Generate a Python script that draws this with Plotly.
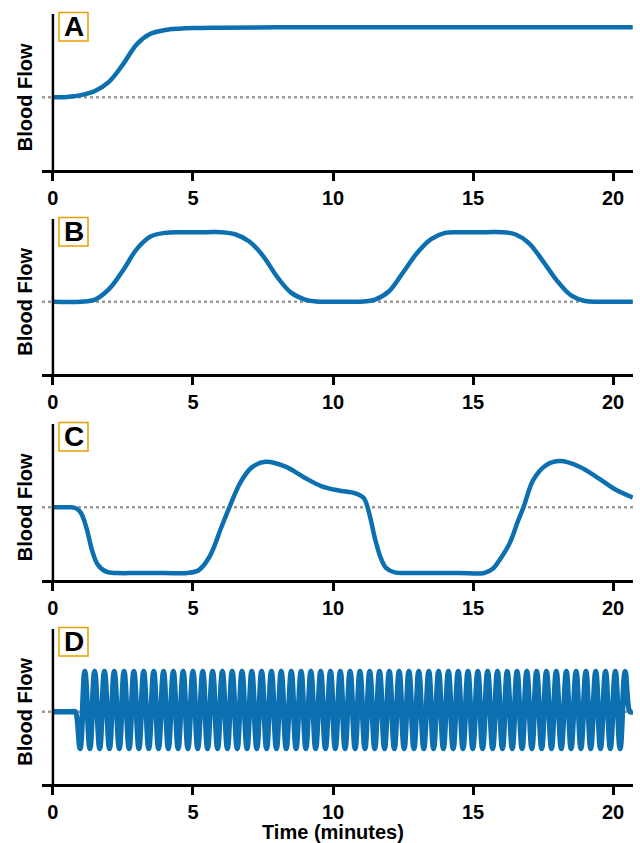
import plotly.graph_objects as go

# ---------------- data ----------------
time_a = [0, 0.5, 1.0, 1.5, 2.0, 2.5, 3.0, 3.5, 4.0, 4.5, 5.0, 6.0, 8.0, 10.0, 15.0, 20.7]
flow_a = [0, 0.005, 0.03, 0.09, 0.22, 0.47, 0.76, 0.91, 0.96, 0.98, 0.99, 0.995, 1.0, 1.0, 1.0, 1.0]

time_b = [0, 1.0, 1.5, 2.0, 2.5, 3.0, 3.5, 4.0, 4.5, 5.0, 5.5, 6.0, 6.5, 7.0, 7.5, 8.0, 8.5, 9.0, 9.5,
          10.0, 10.5, 11.0, 11.5, 12.0, 12.5, 13.0, 13.5, 14.0, 14.5, 15.0, 15.5, 16.0, 16.5, 17.0,
          17.5, 18.0, 18.5, 19.0, 19.5, 20.0, 20.7]
flow_b = [0, 0, 0.03, 0.18, 0.45, 0.76, 0.94, 0.99, 1.0, 1.0, 1.0, 1.0, 0.97, 0.87, 0.66, 0.36, 0.13,
          0.03, 0.0, 0.0, 0.0, 0.0, 0.03, 0.15, 0.42, 0.70, 0.90, 0.99, 1.0, 1.0, 1.0, 1.0, 0.97, 0.84,
          0.58, 0.30, 0.09, 0.01, 0.0, 0.0, 0.0]

time_c = [0, 0.5, 0.8, 1.0, 1.2, 1.4, 1.6, 1.9, 2.3, 3.0, 4.0, 4.8, 5.2, 5.6, 6.0, 6.3, 6.7, 7.1,
          7.6, 8.3, 9.0, 9.6, 10.2, 10.8, 11.1, 11.3, 11.5, 11.7, 11.9, 12.2, 12.6, 13.5, 14.5,
          15.4, 15.7, 16.0, 16.3, 16.6, 16.8, 17.15, 17.6, 18.1, 18.8, 19.5, 20.1, 20.7]
flow_c = [0, 0, -0.01, -0.08, -0.30, -0.62, -0.82, -0.92, -0.94, -0.94, -0.94, -0.94, -0.90, -0.70,
          -0.30, 0.0, 0.36, 0.57, 0.65, 0.58, 0.42, 0.30, 0.24, 0.20, 0.13, -0.10, -0.45, -0.72,
          -0.87, -0.93, -0.94, -0.94, -0.94, -0.94, -0.88, -0.72, -0.52, -0.20, 0.0, 0.39, 0.60,
          0.66, 0.58, 0.41, 0.25, 0.14]

time_d = [0, 0.70, 0.80,
          0.97, 1.14, 1.32, 1.49, 1.67, 1.84, 2.02, 2.19, 2.37, 2.54,
          2.72, 2.89, 3.07, 3.24, 3.42, 3.60, 3.77, 3.95, 4.12, 4.30,
          4.47, 4.65, 4.82, 5.00, 5.17, 5.35, 5.52, 5.70, 5.88, 6.05,
          6.23, 6.40, 6.58, 6.75, 6.93, 7.10, 7.28, 7.45, 7.63, 7.80,
          7.98, 8.15, 8.33, 8.51, 8.68, 8.86, 9.03, 9.21, 9.38, 9.56,
          9.73, 9.91, 10.08, 10.26, 10.43, 10.61, 10.79, 10.96, 11.14, 11.31,
          11.49, 11.66, 11.84, 12.01, 12.19, 12.36, 12.54, 12.71, 12.89, 13.06,
          13.24, 13.42, 13.59, 13.77, 13.94, 14.12, 14.29, 14.47, 14.64, 14.82,
          14.99, 15.17, 15.34, 15.52, 15.70, 15.87, 16.05, 16.22, 16.40, 16.57,
          16.75, 16.92, 17.10, 17.27, 17.45, 17.62, 17.80, 17.97, 18.15, 18.33,
          18.50, 18.68, 18.85, 19.03, 19.20, 19.38, 19.55, 19.73, 19.90, 20.08,
          20.25, 20.43,
          20.60, 20.71]
flow_d = [0, 0, 0,
          -0.53, 0.58, -0.53, 0.58, -0.53, 0.58, -0.53, 0.58, -0.53, 0.58,
          -0.53, 0.58, -0.53, 0.58, -0.53, 0.58, -0.53, 0.58, -0.53, 0.58,
          -0.53, 0.58, -0.53, 0.58, -0.53, 0.58, -0.53, 0.58, -0.53, 0.58,
          -0.53, 0.58, -0.53, 0.58, -0.53, 0.58, -0.53, 0.58, -0.53, 0.58,
          -0.53, 0.58, -0.53, 0.58, -0.53, 0.58, -0.53, 0.58, -0.53, 0.58,
          -0.53, 0.58, -0.53, 0.58, -0.53, 0.58, -0.53, 0.58, -0.53, 0.58,
          -0.53, 0.58, -0.53, 0.58, -0.53, 0.58, -0.53, 0.58, -0.53, 0.58,
          -0.53, 0.58, -0.53, 0.58, -0.53, 0.58, -0.53, 0.58, -0.53, 0.58,
          -0.53, 0.58, -0.53, 0.58, -0.53, 0.58, -0.53, 0.58, -0.53, 0.58,
          -0.53, 0.58, -0.53, 0.58, -0.53, 0.58, -0.53, 0.58, -0.53, 0.58,
          -0.53, 0.58, -0.53, 0.58, -0.53, 0.58, -0.53, 0.58, -0.53, 0.58,
          -0.53, 0.58,
          0.0, 0.0]

x_ticks = [0, 5, 10, 15, 20]
panel_labels = ["A", "B", "C", "D"]
y_title = "Blood Flow"
x_title = "Time (minutes)"

# ---------------- style ----------------
BLUE = "#0b6fb0"
ORANGE = "#E69F00"
GRAY = "#9a9a9a"
FONT = "Liberation Sans"
X_RANGE = [-0.39, 20.71]
Y_RANGE = [-1.04, 1.19]
DOMAINS = [[0.7974, 1.0], [0.5325, 0.7338], [0.2649, 0.4675], [0.0, 0.2013]]
PANEL_H = 155.5
LINE_W = [4.5, 4.5, 4.5, 5.5]

series = [(time_a, flow_a), (time_b, flow_b), (time_c, flow_c), (time_d, flow_d)]

fig = go.Figure()
shapes = []
annotations = []
layout_axes = {}

for i, (t, v) in enumerate(series):
    n = i + 1
    sfx = "" if n == 1 else str(n)
    xa, ya = "x" + sfx, "y" + sfx
    fig.add_trace(go.Scatter(
        x=t, y=v, mode="lines", xaxis=xa, yaxis=ya, hoverinfo="skip",
        line=dict(color=BLUE, width=LINE_W[i], shape="spline", smoothing=1.0),
        showlegend=False))
    layout_axes["xaxis" + sfx] = dict(
        domain=[0, 1], anchor=ya, range=X_RANGE, tickvals=x_ticks,
        ticks="outside", ticklen=8, tickwidth=2.5, tickcolor="black",
        showline=True, linewidth=2.5, linecolor="black",
        showgrid=False, zeroline=False,
        tickfont=dict(family=FONT, size=20, color="black", weight="bold"))
    layout_axes["yaxis" + sfx] = dict(
        domain=DOMAINS[i], anchor=xa, range=Y_RANGE,
        showline=False, showticklabels=False, ticks="",
        showgrid=False, zeroline=False)
    # dotted baseline
    shapes.append(dict(type="line", xref=xa + " domain", x0=0, x1=1,
                       yref=ya, y0=0, y1=0, layer="below",
                       line=dict(color=GRAY, width=2.5, dash="dot")))
    # y-axis line at t = 0
    shapes.append(dict(type="line", xref=xa, x0=0, x1=0,
                       yref=ya + " domain", y0=0, y1=1,
                       line=dict(color="black", width=2.5)))
    # panel label box
    top = 1 + 1.5 / PANEL_H
    bot = 1 - 27 / PANEL_H
    shapes.append(dict(type="rect", xref=xa + " domain", x0=17 / 591, x1=46 / 591,
                       yref=ya + " domain", y0=bot, y1=top,
                       line=dict(color=ORANGE, width=1.5), fillcolor="white"))
    annotations.append(dict(
        text="<b>%s</b>" % panel_labels[i], showarrow=False,
        xref=xa + " domain", x=31.5 / 591, xanchor="center",
        yref=ya + " domain", y=(top + bot) / 2, yanchor="middle",
        font=dict(family=FONT, size=28, color="black")))
    annotations.append(dict(
        text="<b>%s</b>" % y_title, showarrow=False, textangle=-90,
        xref="paper", x=-17 / 591, xanchor="center",
        yref=ya, y=0, yanchor="middle",
        font=dict(family=FONT, size=20, color="black")))

annotations.append(dict(
    text="<b>%s</b>" % x_title, showarrow=False,
    xref="x4", x=10, xanchor="center",
    yref="paper", y=-48 / 770, yanchor="middle",
    font=dict(family=FONT, size=20, color="black")))

fig.update_layout(
    width=640, height=843,
    margin=dict(l=42, r=7, t=14, b=59),
    paper_bgcolor="white", plot_bgcolor="white",
    shapes=shapes, annotations=annotations,
    showlegend=False,
    **layout_axes)

fig.write_html("out.html",
               config={"displayModeBar": False},
               post_script="document.body.style.margin='0';document.body.style.overflow='hidden';")
